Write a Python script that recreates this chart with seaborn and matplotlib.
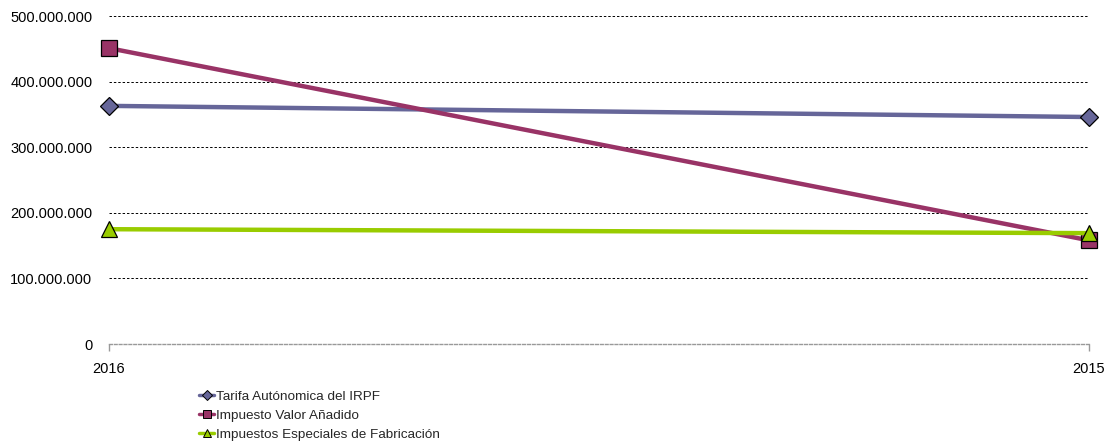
import pandas as pd
import numpy as np
import matplotlib.pyplot as plt
import seaborn as sns
from matplotlib.lines import Line2D
from matplotlib.ticker import FuncFormatter

# data
years = ['2016', '2015']
series_names = ['Tarifa Autónomica del IRPF', 'Impuesto Valor Añadido',
                'Impuestos Especiales de Fabricación']
irpf = [363_000_000, 346_000_000]
iva = [451_000_000, 158_000_000]
ief = [175_000_000, 169_000_000]

colors = ['#666699', '#993366', '#99CC00']
markers = ['D', 's', '^']
marker_sizes = [9, 11, 12]

df = pd.DataFrame({
    'year': years * 3,
    'serie': [n for n in series_names for _ in years],
    'value': irpf + iva + ief,
})

sns.set_style("white")
plt.rcParams['font.family'] = ['Liberation Sans', 'DejaVu Sans']

fig = plt.figure(figsize=(11.08, 4.46), dpi=100)
ax = fig.add_axes([109 / 1108, 1 - 344 / 446, (1089 - 109) / 1108, (344 - 16) / 446])

for name, c, m, ms in zip(series_names, colors, markers, marker_sizes):
    sub = df[df['serie'] == name]
    sns.lineplot(data=sub, x='year', y='value', ax=ax, color=c, linewidth=3.2,
                 marker=m, markersize=ms, markeredgecolor='black',
                 markeredgewidth=0.9, legend=False, zorder=3)

for line in ax.lines:
    line.set_clip_on(False)

ax.set_xlim(0, 1)
ax.set_ylim(0, 500_000_000)
ax.set_yticks(np.arange(0, 500_000_001, 100_000_000))
ax.yaxis.set_major_formatter(FuncFormatter(lambda v, p: f"{int(v):,}".replace(',', '.')))
ax.tick_params(axis='y', length=0, pad=12, labelsize=10.5, labelcolor='black')
ax.tick_params(axis='x', length=5, color='#999999', width=1, pad=8, labelsize=10.5,
               labelcolor='black', direction='out', bottom=True)

for s in ['left', 'right', 'top']:
    ax.spines[s].set_visible(False)
ax.spines['bottom'].set_color('#999999')
ax.spines['bottom'].set_linestyle((0, (2, 1.5)))
ax.spines['bottom'].set_linewidth(1)

for v in range(100_000_000, 500_000_001, 100_000_000):
    ax.axhline(v, color='black', linestyle=(0, (2.5, 2)), linewidth=0.7, zorder=1)

ax.set_xlabel('')
ax.set_ylabel('')

# separate, smaller handles for the legend
handles = [Line2D([], [], color=c, marker=m, markersize=ms, linewidth=2.5,
                  markeredgecolor='black', markeredgewidth=0.7)
           for c, m, ms in zip(colors, markers, [5, 6, 6])]
ax.legend(handles, series_names, loc='upper left', frameon=False, fontsize=9.7,
          bbox_to_anchor=(194 / 1108, 1 - 385 / 446), bbox_transform=fig.transFigure,
          handlelength=1.1, handletextpad=0.15, labelspacing=0.5, borderaxespad=0)

plt.savefig('out.png', dpi=100)
